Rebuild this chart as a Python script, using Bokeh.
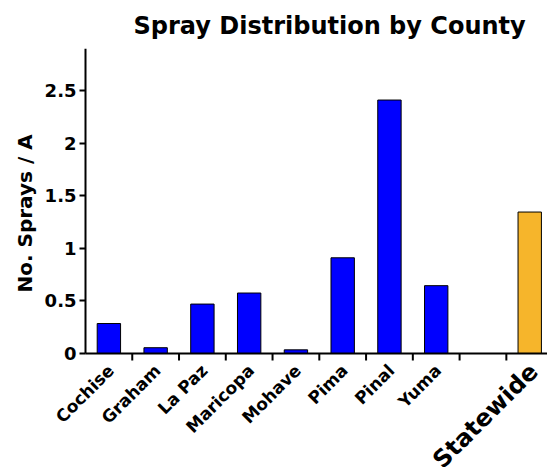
import math
from bokeh.plotting import figure
from bokeh.models import FixedTicker, Range1d, Title
from bokeh.core.properties import value
from bokeh.embed import file_html
from bokeh.resources import INLINE

counties = ["Cochise", "Graham", "La Paz", "Maricopa", "Mohave", "Pima", "Pinal", "Yuma"]
county_sprays = [0.285, 0.055, 0.47, 0.575, 0.035, 0.91, 2.41, 0.645]
state_label = ["Statewide"]
state_sprays = [1.345]
y_ticks = [0, 0.5, 1, 1.5, 2, 2.5]
y_tick_labels = ["0", "0.5", "1", "1.5", "2", "2.5"]

FONT = "DejaVu Sans"
W, H = 547, 467
TOP, FRAME_LEFT, AXIS_X, AXIS_Y = 48, 44, 85, 353   # pixel layout of the frame / axes
Y_MAX = 2.9
Y_MIN = -Y_MAX * (H - AXIS_Y) / (AXIS_Y - TOP)     # room below zero for the category labels

n_slots = len(counties) + 2  # one empty slot before Statewide
X_END = n_slots - 0.12
X_START = -X_END * (AXIS_X - FRAME_LEFT) / (W - AXIS_X)  # room left of the y axis
county_x = [i + 0.5 for i in range(len(counties))]
state_x = [n_slots - 0.5]
boundaries = [i for i in range(1, n_slots)]

p = figure(width=W, height=H, output_backend="svg", toolbar_location=None,
           x_range=Range1d(X_START, X_END), y_range=Range1d(Y_MIN, Y_MAX),
           min_border_left=FRAME_LEFT, min_border_right=0, min_border_top=TOP,
           min_border_bottom=0)

p.vbar(x=county_x, top=county_sprays, width=0.5, bottom=0,
       fill_color="#0000FF", line_color="black", line_width=1)
p.vbar(x=state_x, top=state_sprays, width=0.5, bottom=0,
       fill_color="#F6B52B", line_color="black", line_width=1)

# category axis: zero line, ticks between categories, rotated labels
xa = p.xaxis[0]
xa.fixed_location = 0
xa.bounds = (0, X_END)
xa.ticker = FixedTicker(ticks=[], minor_ticks=[])
xa.major_tick_out = 0
xa.major_tick_in = 0
xa.minor_tick_out = 0
xa.minor_tick_in = 0
xa.axis_line_width = 2
xa.axis_line_color = "black"

p.ray(x=boundaries, y=[0] * len(boundaries), length=7, length_units="screen",
      angle=-math.pi / 2, line_color="black", line_width=2)
p.text(x=county_x, y=[0] * len(counties), text=counties, angle=math.pi / 4,
       x_offset=2, y_offset=14, text_align="right", text_baseline="middle",
       text_font=value(FONT), text_font_style="bold", text_font_size="17px",
       text_color="black")
p.text(x=state_x, y=[0], text=state_label, angle=math.pi / 4,
       x_offset=4, y_offset=14, text_align="right", text_baseline="middle",
       text_font=value(FONT), text_font_style="bold", text_font_size="24px",
       text_color="black")

p.title.text = "Spray Distribution by County"
p.title.text_font = FONT
p.title.text_font_size = "24px"
p.title.text_font_style = "bold"
p.title.text_color = "black"
p.title.align = "left"
p.title.offset = 89
p.title.standoff = 18

p.xgrid.visible = False
p.ygrid.visible = False
p.outline_line_color = None

# y axis, pinned at x = 0
ya = p.yaxis[0]
ya.fixed_location = 0
ya.bounds = (0, Y_MAX)
ya.ticker = FixedTicker(ticks=y_ticks, minor_ticks=[])
ya.major_label_overrides = {t: l for t, l in zip(y_ticks, y_tick_labels)}
ya.axis_line_width = 2
ya.axis_line_color = "black"
ya.major_tick_out = 6
ya.major_tick_in = 0
ya.minor_tick_out = 0
ya.minor_tick_in = 0
ya.major_tick_line_width = 2
ya.major_tick_line_color = "black"
ya.major_label_text_font = FONT
ya.major_label_text_font_style = "bold"
ya.major_label_text_font_size = "18px"
ya.major_label_text_color = "black"
ya.major_label_standoff = 3

# y axis title, placed along the upper part of the axis
p.add_layout(Title(text="No. Sprays / A", align="left", offset=175, standoff=16,
                   text_font=FONT, text_font_style="bold", text_font_size="20px",
                   text_color="black"), "left")

open("out.html", "w").write(file_html(p, INLINE))
